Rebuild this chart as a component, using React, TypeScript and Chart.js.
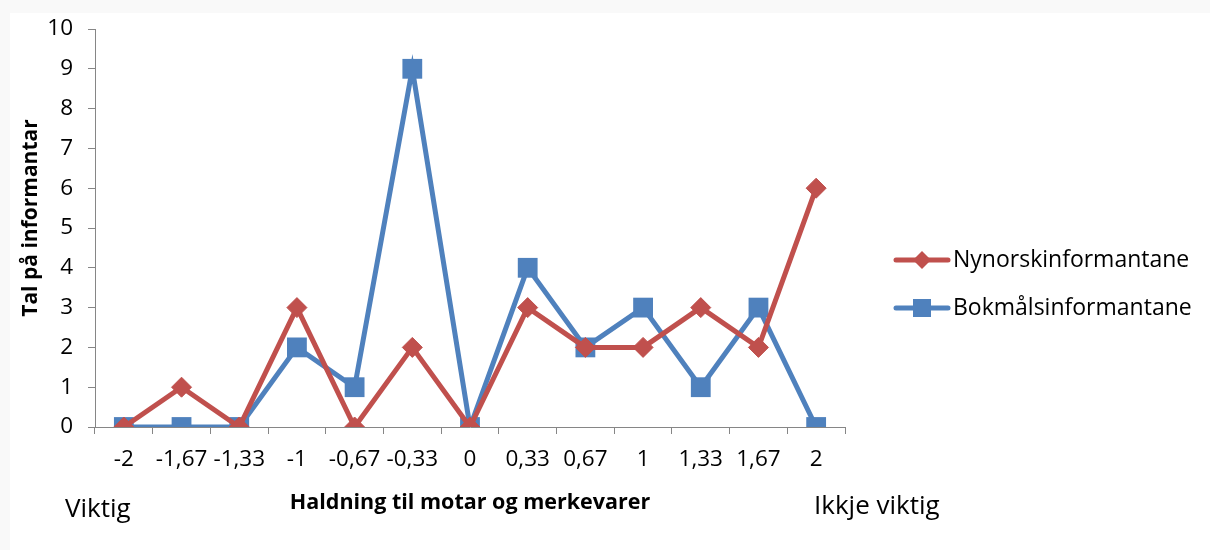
import React, { useEffect, useRef } from "react";
import { Chart, registerables } from "chart.js";

Chart.register(...registerables);

const categories = ["-2", "-1,67", "-1,33", "-1", "-0,67", "-0,33", "0", "0,33", "0,67", "1", "1,33", "1,67", "2"];
const nynorskValues = [0, 1, 0, 3, 0, 2, 0, 3, 2, 2, 3, 2, 6];
const bokmalValues = [0, 0, 0, 2, 1, 9, 0, 4, 2, 3, 1, 3, 0];
const seriesNames = ["Nynorskinformantane", "Bokmålsinformantane"];
const yTitle = "Tal på informantar";
const xTitle = "Haldning til motar og merkevarer";
const leftNote = "Viktig";
const rightNote = "Ikkje viktig";

const RED = "#C0504D";
const BLUE = "#4F81BD";
const AXIS = "#868686";
const FONT = "'Open Sans', 'Noto Sans', sans-serif";

export default function App() {
  const ref = useRef<HTMLCanvasElement>(null);
  useEffect(() => {
    document.body.style.margin = "0";
    const canvas = ref.current!;
    const extras = {
      id: "extras",
      beforeDraw(chart: any) {
        const ctx = chart.ctx;
        ctx.save();
        ctx.fillStyle = "#FFFFFF";
        ctx.fillRect(0, 0, 1210, 550);
        ctx.fillStyle = "#F9F9F9";
        ctx.fillRect(0, 0, 1210, 13);
        ctx.fillRect(0, 0, 10, 550);
        ctx.restore();
      },
      afterDraw(chart: any) {
        const ctx = chart.ctx;
        ctx.save();
        ctx.fillStyle = "#000";
        ctx.textBaseline = "middle";
        // y axis title
        ctx.save();
        ctx.translate(31, 218);
        ctx.rotate(-Math.PI / 2);
        ctx.textAlign = "center";
        ctx.font = `bold 21px ${FONT}`;
        ctx.fillText(yTitle, 0, 0);
        ctx.restore();
        ctx.font = `26px ${FONT}`;
        ctx.textAlign = "left";
        ctx.fillText(leftNote, 65, 510);
        ctx.fillText(rightNote, 814, 507);
        ctx.font = `23px ${FONT}`;
        const items = [
          { name: seriesNames[0], color: RED, style: "diamond", y: 260 },
          { name: seriesNames[1], color: BLUE, style: "square", y: 308 },
        ];
        for (const it of items) {
          ctx.strokeStyle = it.color;
          ctx.lineWidth = 5;
          ctx.lineCap = "round";
          ctx.beginPath();
          ctx.moveTo(896, it.y);
          ctx.lineTo(948, it.y);
          ctx.stroke();
          ctx.fillStyle = it.color;
          ctx.beginPath();
          if (it.style === "diamond") {
            ctx.moveTo(922, it.y - 9);
            ctx.lineTo(931, it.y);
            ctx.lineTo(922, it.y + 9);
            ctx.lineTo(913, it.y);
            ctx.closePath();
          } else {
            ctx.rect(913, it.y - 9, 18, 18);
          }
          ctx.fill();
          ctx.fillStyle = "#000";
          ctx.textAlign = "left";
          ctx.fillText(it.name, 953, it.y);
        }
        ctx.restore();
      },
    };
    const chart = new Chart(canvas, {
      type: "line",
      data: {
        labels: categories,
        datasets: [
          {
            label: seriesNames[0],
            data: nynorskValues,
            borderColor: RED,
            backgroundColor: RED,
            borderWidth: 5,
            pointStyle: "rectRot",
            pointRadius: 10,
            pointBorderWidth: 1,
            pointBorderColor: RED,
            pointBackgroundColor: RED,
            tension: 0,
          },
          {
            label: seriesNames[1],
            data: bokmalValues,
            borderColor: BLUE,
            backgroundColor: BLUE,
            borderWidth: 5,
            pointStyle: "rect",
            pointRadius: 14,
            pointBorderWidth: 0,
            pointBackgroundColor: BLUE,
            tension: 0,
          },
        ],
      },
      options: {
        animation: false,
        responsive: false,
        layout: { padding: { left: 0, top: 29, right: 365, bottom: 0 } },
        plugins: { legend: { display: false }, tooltip: { enabled: false } },
        scales: {
          x: {
            type: "category",
            offset: true,
            grid: { offset: true, drawOnChartArea: false, drawTicks: true, tickLength: 7, color: AXIS },
            border: { color: AXIS, width: 1 },
            ticks: { color: "#000", font: { family: FONT, size: 22.5 }, padding: 12, maxRotation: 0, autoSkip: false },
            title: { display: true, text: xTitle, color: "#000", font: { family: FONT, size: 21.5, weight: "bold" }, padding: { top: 0, bottom: 34 } },
            afterFit: (s: any) => { s.height = 123; },
          },
          y: {
            min: 0,
            max: 10,
            ticks: { stepSize: 1, color: "#000", font: { family: FONT, size: 22.5 }, padding: 15 },
            grid: { drawOnChartArea: false, drawTicks: true, tickLength: 7, color: AXIS },
            border: { color: AXIS, width: 1 },
            title: { display: false },
            afterFit: (s: any) => { s.width = 95; },
          },
        },
      },
      plugins: [extras],
    });
    return () => chart.destroy();
  }, []);
  return <canvas ref={ref} width={1210} height={550} style={{ display: "block", width: 1210, height: 550 }} />;
}
